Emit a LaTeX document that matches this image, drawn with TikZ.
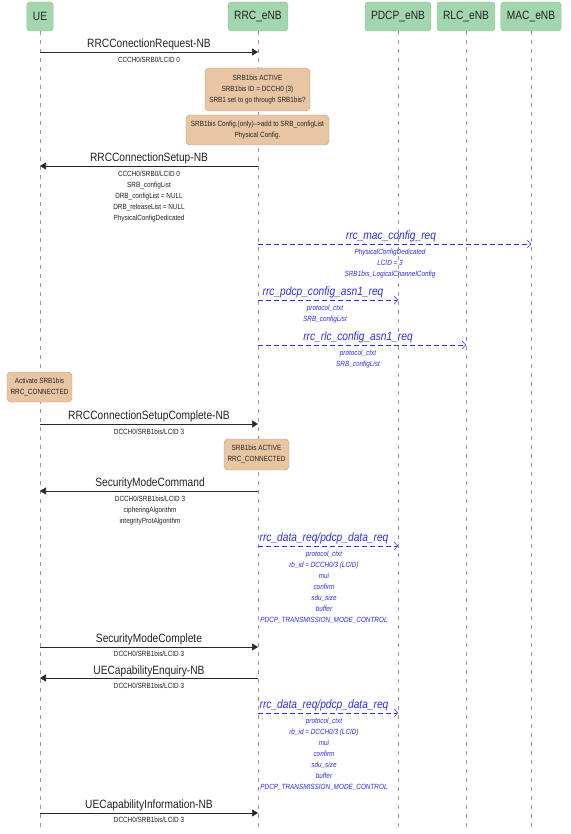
\documentclass[tikz,border=0pt]{standalone}
\usepackage{fontspec}
\setmainfont[FakeStretch=0.85]{Liberation Sans}
\usetikzlibrary{arrows.meta}
\definecolor{hdrfill}{RGB}{163,214,174}
\definecolor{hdrdraw}{RGB}{140,200,156}
\definecolor{notefill}{RGB}{232,198,164}
\definecolor{notedraw}{RGB}{196,156,112}
\definecolor{msgblue}{RGB}{45,45,240}
\definecolor{lifegray}{RGB}{150,150,150}
\definecolor{txt}{RGB}{35,35,35}
\begin{document}
\begin{tikzpicture}[x=1pt,y=-1pt,
  hdr/.style={draw=hdrdraw, fill=hdrfill, rounded corners=3pt, minimum height=29pt, inner xsep=6pt, font=\fontsize{12}{14}\selectfont, text=txt},
  life/.style={draw=lifegray, dash pattern=on 4pt off 5pt, line width=0.5pt},
  note/.style={draw=notedraw, fill=notefill, rounded corners=4pt, align=center, font=\fontsize{7.5}{11}\selectfont, text=txt, inner sep=2pt},
  msg/.style={-{Triangle[length=6pt,width=7pt]}, line width=0.6pt, draw=black!85},
  cfg/.style={-{Straight Barb[length=3.5pt,width=8pt]}, draw=msgblue, dash pattern=on 5pt off 3pt, line width=0.5pt},
  lbl/.style={font=\fontsize{12}{14}\selectfont, inner sep=0pt, anchor=base, text=txt},
  sub/.style={font=\fontsize{7.5}{11}\selectfont, align=center, inner sep=0pt, anchor=north, text=txt},
  blbl/.style={font=\fontsize{12}{14}\selectfont\itshape, text=msgblue, inner sep=0pt, anchor=base},
  bsub/.style={font=\fontsize{7.5}{11}\selectfont\itshape, text=msgblue, align=center, inner sep=0pt, anchor=north},
]
\fill[white] (0,0) rectangle (570,834);
\useasboundingbox (0,0) rectangle (570,834);

% headers
\node[hdr] (ue) at (40,16.5) {UE};
\node[hdr] (rrc) at (258,16.5) {RRC\_eNB};
\node[hdr] (pdcp) at (398,16.5) {PDCP\_eNB};
\node[hdr] (rlc) at (466,16.5) {RLC\_eNB};
\node[hdr] (mac) at (531,16.5) {MAC\_eNB};

% lifelines
\coordinate (ue-end) at (40,830);
\coordinate (rrc-end) at (258,830);
\coordinate (pdcp-end) at (398,830);
\coordinate (rlc-end) at (466,830);
\coordinate (mac-end) at (531,830);
\draw[life] (ue.south) -- (ue-end);
\draw[life] (rrc.south) -- (rrc-end);
\draw[life] (pdcp.south) -- (pdcp-end);
\draw[life] (rlc.south) -- (rlc-end);
\draw[life] (mac.south) -- (mac-end);

% 1
\coordinate (a1s) at (40,52); \coordinate (a1e) at (258,52);
\draw[msg] (a1s) -- (a1e);
\node[lbl] (l1) at (149,47.5) {RRCConectionRequest-NB};
\node[sub] (s1) at (149,57) {CCCH0/SRB0/LCID 0};

% notes
\node[note, minimum width=105pt, minimum height=43pt] (n1) at (257.5,89.5) {SRB1bis ACTIVE\\SRB1bis ID = DCCH0 (3)\\SRB1 set to go through SRB1bis?};
\node[note, minimum width=143pt, minimum height=30pt] (n2) at (257.5,130) {SRB1bis Config.(only)-->add to SRB\_configList\\Physical Config.};

% 2
\coordinate (a2s) at (258,166); \coordinate (a2e) at (40,166);
\draw[msg] (a2s) -- (a2e);
\node[lbl] (l2) at (149,161.5) {RRCConnectionSetup-NB};
\node[sub] (s2) at (149,171) {CCCH0/SRB0/LCID 0\\SRB\_configList\\DRB\_configList = NULL\\DRB\_releaseList = NULL\\PhysicalConfigDedicated};

% 3
\coordinate (a3s) at (258,244); \coordinate (a3e) at (531,244);
\draw[cfg] (a3s) -- (a3e);
\node[blbl] (l3) at (391,239.5) {rrc\_mac\_config\_req};
\node[bsub] (s3) at (390,249) {PhysicalConfigDedicated\\LCID = 3\\SRB1bis\_LogicalChannelConfig};

% 4
\coordinate (a4s) at (258,300); \coordinate (a4e) at (398,300);
\draw[cfg] (a4s) -- (a4e);
\node[blbl] (l4) at (323,295.5) {rrc\_pdcp\_config\_asn1\_req};
\node[bsub] (s4) at (325,305) {protocol\_ctxt\\SRB\_configList};

% 5
\coordinate (a5s) at (258,345); \coordinate (a5e) at (466,345);
\draw[cfg] (a5s) -- (a5e);
\node[blbl] (l5) at (358,340.5) {rrc\_rlc\_config\_asn1\_req};
\node[bsub] (s5) at (358,349.5) {protocol\_ctxt\\SRB\_configList};

% note 3
\node[note, minimum width=65pt, minimum height=30pt] (n3) at (39.5,387) {Activate SRB1bis\\RRC\_CONNECTED};

% 6
\coordinate (a6s) at (40,424); \coordinate (a6e) at (258,424);
\draw[msg] (a6s) -- (a6e);
\node[lbl] (l6) at (149,419.5) {RRCConnectionSetupComplete-NB};
\node[sub] (s6) at (149,428.5) {DCCH0/SRB1bis/LCID 3};

% note 4
\node[note, minimum width=65pt, minimum height=31pt] (n4) at (256.5,454.5) {SRB1bis ACTIVE\\RRC\_CONNECTED};

% 7
\coordinate (a7s) at (258,491); \coordinate (a7e) at (40,491);
\draw[msg] (a7s) -- (a7e);
\node[lbl] (l7) at (150,486.5) {SecurityModeCommand};
\node[sub] (s7) at (150,495.5) {DCCH0/SRB1bis/LCID 3\\cipheringAlgorithm\\integrityProtAlgorithm};

% 8
\coordinate (a8s) at (258,546); \coordinate (a8e) at (398,546);
\draw[cfg] (a8s) -- (a8e);
\node[blbl] (l8) at (324,541.5) {rrc\_data\_req/pdcp\_data\_req};
\node[bsub] (s8) at (324,551) {protocol\_ctxt\\rb\_id = DCCH0/3 (LCID)\\mui\\confirm\\sdu\_size\\buffer\\PDCP\_TRANSMISSION\_MODE\_CONTROL};

% 9
\coordinate (a9s) at (40,647); \coordinate (a9e) at (258,647);
\draw[msg] (a9s) -- (a9e);
\node[lbl] (l9) at (149,642.5) {SecurityModeComplete};
\node[sub] (s9) at (149,650.5) {DCCH0/SRB1bis/LCID 3};

% 10
\coordinate (a10s) at (258,678); \coordinate (a10e) at (40,678);
\draw[msg] (a10s) -- (a10e);
\node[lbl] (l10) at (149,674) {UECapabilityEnquiry-NB};
\node[sub] (s10) at (149,683) {DCCH0/SRB1bis/LCID 3};

% 11
\coordinate (a11s) at (258,713); \coordinate (a11e) at (398,713);
\draw[cfg] (a11s) -- (a11e);
\node[blbl] (l11) at (324,708.5) {rrc\_data\_req/pdcp\_data\_req};
\node[bsub] (s11) at (324,717.5) {protocol\_ctxt\\rb\_id = DCCH0/3 (LCID)\\mui\\confirm\\sdu\_size\\buffer\\PDCP\_TRANSMISSION\_MODE\_CONTROL};

% 12
\coordinate (a12s) at (40,813); \coordinate (a12e) at (258,813);
\draw[msg] (a12s) -- (a12e);
\node[lbl] (l12) at (149,808.5) {UECapabilityInformation-NB};
\node[sub] (s12) at (149,817) {DCCH0/SRB1bis/LCID 3};
\end{tikzpicture}
\end{document}
